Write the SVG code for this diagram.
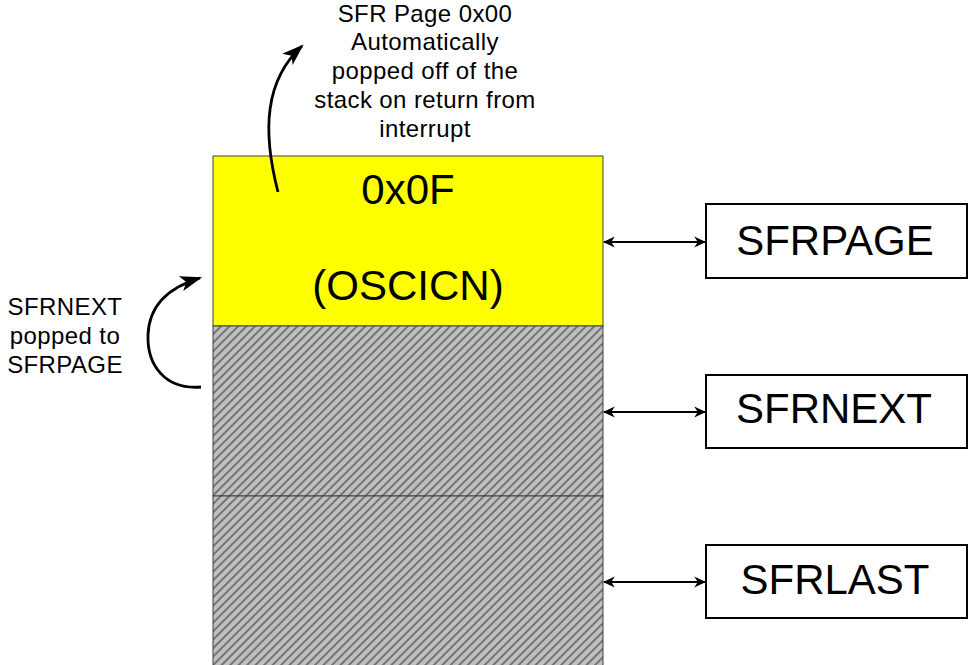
<svg xmlns="http://www.w3.org/2000/svg" width="969" height="665" viewBox="0 0 969 665">
<defs>
<pattern id="hatch" patternUnits="userSpaceOnUse" width="6" height="6" patternTransform="rotate(-45 0 0)">
<rect width="6" height="6" fill="#c0c0c0"/>
<line x1="0" y1="3" x2="6" y2="3" stroke="#404040" stroke-width="1.2"/>
</pattern>
<marker id="ah" viewBox="0 0 10 10" refX="9" refY="5" markerWidth="12" markerHeight="12" markerUnits="userSpaceOnUse" orient="auto-start-reverse">
<path d="M0,0.5 L10,5 L0,9.5 L3,5 Z" fill="#000"/>
</marker>
<marker id="bh" viewBox="0 0 10 10" refX="9" refY="5" markerWidth="22" markerHeight="22" markerUnits="userSpaceOnUse" orient="auto">
<path d="M0,1.5 L10,5 L0,8.5 L2.5,5 Z" fill="#000"/>
</marker>
</defs>
<style>
text{font-family:"Liberation Sans",Arial,sans-serif;fill:#000}
.lbl{font-size:24px;letter-spacing:0.4px;text-anchor:middle}
.big{font-size:42px;text-anchor:middle}
.box{fill:#fff;stroke:#000;stroke-width:2}
.cell{stroke:#404040;stroke-width:1}
.conn{fill:none;stroke:#000;stroke-width:2.8}
.dbl{fill:none;stroke:#000;stroke-width:2}
</style>
<g id="stack">
<rect class="cell" x="213" y="156" width="390" height="170" fill="#ffff00"/>
<rect class="cell" x="213" y="326" width="390" height="170" fill="url(#hatch)"/>
<rect class="cell" x="213" y="496" width="390" height="175" fill="url(#hatch)"/>
<text class="big" x="408" y="204">0x0F</text>
<text class="big" x="408" y="300">(OSCICN)</text>
</g>
<g id="sfrpage">
<rect class="box" x="706" y="204" width="261" height="74"/>
<text class="big" x="835" y="255">SFRPAGE</text>
</g>
<g id="sfrnext">
<rect class="box" x="706" y="375" width="261" height="73"/>
<text class="big" x="834" y="423">SFRNEXT</text>
</g>
<g id="sfrlast">
<rect class="box" x="706" y="545" width="261" height="73"/>
<text class="big" x="835" y="594">SFRLAST</text>
</g>
<g id="note-top">
<text class="lbl" x="425" y="22">SFR Page 0x00</text>
<text class="lbl" x="425" y="50">Automatically</text>
<text class="lbl" x="425" y="79">popped off of the</text>
<text class="lbl" x="425" y="108">stack on return from</text>
<text class="lbl" x="425" y="137">interrupt</text>
</g>
<g id="note-left">
<text class="lbl" x="65" y="315">SFRNEXT</text>
<text class="lbl" x="65" y="344">popped to</text>
<text class="lbl" x="65" y="373">SFRPAGE</text>
</g>
<g id="connectors">
<path class="conn" d="M278,192 C262,130 265,80 302,46" marker-end="url(#bh)"/>
<path class="conn" d="M201,387 C165,390 147,365 148,335 C149,305 170,287 200,278" marker-end="url(#bh)"/>
<line class="dbl" x1="604" y1="242" x2="705" y2="242" marker-start="url(#ah)" marker-end="url(#ah)"/>
<line class="dbl" x1="604" y1="412" x2="705" y2="412" marker-start="url(#ah)" marker-end="url(#ah)"/>
<line class="dbl" x1="604" y1="582" x2="705" y2="582" marker-start="url(#ah)" marker-end="url(#ah)"/>
</g>
</svg>
